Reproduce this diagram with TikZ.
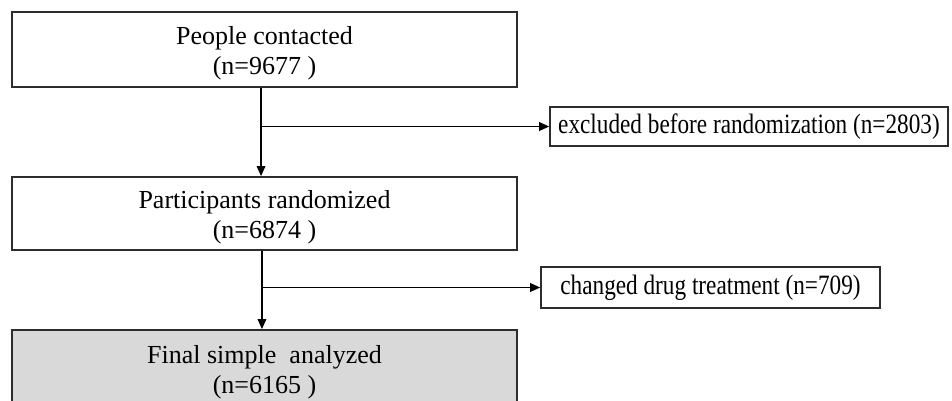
\documentclass[tikz,border=0pt]{standalone}
\usepackage{fontspec}
\setmainfont{Liberation Serif}
\newfontfamily\narrowserif[FakeStretch=0.83]{Liberation Serif}
\usetikzlibrary{arrows.meta,positioning}
\definecolor{boxgray}{RGB}{217,217,217}
\definecolor{edgegray}{RGB}{45,45,45}
\newcommand{\topstrut}{\rule{0pt}{19.5pt}}
\begin{document}
\begin{tikzpicture}[x=0.75pt,y=-0.75pt,
    mainbox/.style={draw=edgegray,line width=1.4pt,minimum width=505*0.75pt,
      align=center,font=\fontsize{19.5}{22.5}\selectfont,inner sep=0pt},
    sidebox/.style={draw=edgegray,line width=1.2pt,align=center,
      font=\narrowserif\fontsize{21}{24}\selectfont,inner sep=0pt},
    flow/.style={line width=1pt,-{Triangle[length=7.5pt,width=6.5pt]}}]

    \useasboundingbox (0,0) rectangle (952,400);
    \clip (0,0) rectangle (952,400);

    % Boxes
    \node[mainbox,minimum height=75*0.75pt] (contacted) at (264.5,49.5)
      {\topstrut People contacted\\(n=9677 )};
    \node[mainbox,minimum height=73*0.75pt] (randomized) at (264.5,213.5)
      {\topstrut Participants randomized\\(n=6874 )};
    \node[mainbox,fill=boxgray,minimum height=76*0.75pt] (final) at (264.5,368)
      {\topstrut Final simple~ analyzed\\(n=6165 )};

    % Exclusions
    \node[sidebox,minimum width=398*0.75pt,minimum height=39*0.75pt] (excluded) at (749,126.5)
      {excluded before randomization (n=2803)};
    \node[sidebox,minimum width=339*0.75pt,minimum height=41*0.75pt] (changed) at (710.5,287.5)
      {changed drug treatment (n=709)};

    % Arrows
    \draw[flow] ([xshift=-2.6pt]contacted.south) -- ([xshift=-2.6pt]randomized.north);
    \draw[flow] ([xshift=-2.6pt]contacted.south |- excluded.west) -- (excluded.west);
    \draw[flow] ([xshift=-1.9pt]randomized.south) -- ([xshift=-1.9pt]final.north);
    \draw[flow] ([xshift=-1.9pt]randomized.south |- changed.west) -- (changed.west);

\end{tikzpicture}
\end{document}
